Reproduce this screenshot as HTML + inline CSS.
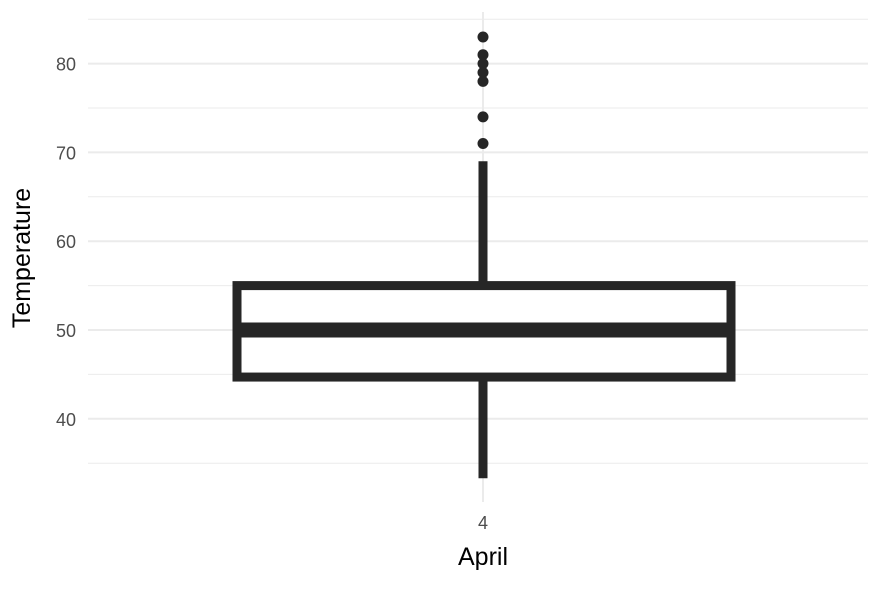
<!DOCTYPE html>
<html><head><meta charset="utf-8"><style>
body{margin:0;background:#fff;font-family:"Liberation Sans",sans-serif}
</style></head><body>
<svg id="chart" width="892" height="586" xmlns="http://www.w3.org/2000/svg">
<g id="grid"></g>
<g id="marks"></g>
<text x="483" y="529" text-anchor="middle" font-size="18" fill="#4d4d4d">4</text>
<text x="483" y="565" text-anchor="middle" font-size="25" fill="#000">April</text>
<text transform="translate(30,258) rotate(-90)" text-anchor="middle" font-size="25" fill="#000">Temperature</text>
</svg>
<script>
const yTicks=[40,50,60,70,80];
const yMinor=[35,45,55,65,75,85];
const category=["4"];
const stats={q1:[44.7],median:[50],q3:[55],low:[33.3],high:[69]};
const outliers=[71,74,78,79,80,81,83];
const y=v=>330-(v-50)*8.88;
const ns="http://www.w3.org/2000/svg";
const grid=document.getElementById('grid'),marks=document.getElementById('marks'),svg=document.getElementById('chart');
function mk(tag,attrs,parent){const e=document.createElementNS(ns,tag);for(const k in attrs)e.setAttribute(k,attrs[k]);parent.appendChild(e);return e;}
yMinor.forEach(v=>{const l=mk('line',{x1:88,x2:868,y1:y(v),y2:y(v),stroke:'#ebebeb','stroke-width':1},grid);

});
yTicks.forEach(v=>{const l=mk('line',{x1:88,x2:868,y1:y(v),y2:y(v),stroke:'#ebebeb','stroke-width':2},grid);


const t=mk('text',{x:76,y:y(v)+7,'text-anchor':'end','font-size':18,fill:'#4d4d4d'},svg);t.textContent=v;

});
const cx=483;
const vg=mk('line',{x1:cx,x2:cx,y1:12,y2:502,stroke:'#ebebeb','stroke-width':2},grid);


const w1=mk('line',{x1:cx,x2:cx,y1:y(stats.q3[0]),y2:y(stats.high[0]),stroke:'#262626','stroke-width':9},marks);


const w2=mk('line',{x1:cx,x2:cx,y1:y(stats.q1[0]),y2:y(stats.low[0]),stroke:'#262626','stroke-width':9},marks);


const b=mk('rect',{x:237,y:y(stats.q3[0]),width:494,height:y(stats.q1[0])-y(stats.q3[0]),fill:'#fff',stroke:'#262626','stroke-width':9},marks);


const m=mk('line',{x1:237,x2:731,y1:y(stats.median[0]),y2:y(stats.median[0]),stroke:'#262626','stroke-width':15},marks);


outliers.forEach(v=>{const c=mk('circle',{cx:cx,cy:y(v),r:5.5,fill:'#262626'},marks);

});
</script>
</body></html>
